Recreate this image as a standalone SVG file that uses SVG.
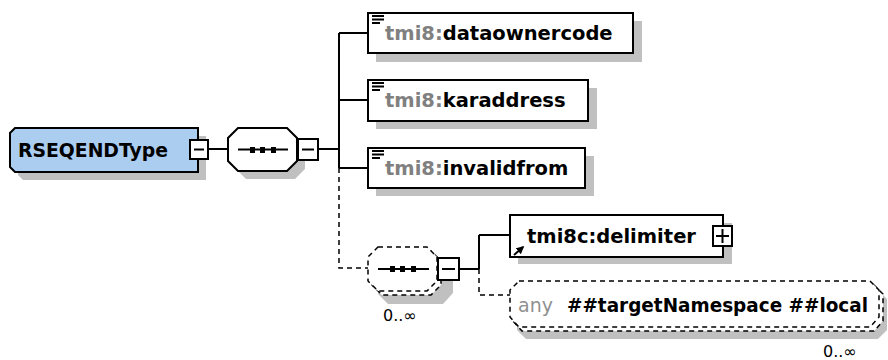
<svg xmlns="http://www.w3.org/2000/svg" width="888" height="360" viewBox="0 0 888 360">
<style>
.sh{fill:#c0c0c0;stroke:none}
.box{fill:#fff;stroke:#000;stroke-width:2}
.dbox{fill:#fff;stroke:#000;stroke-width:1.5;stroke-dasharray:5,4}
.ln{fill:none;stroke:#000;stroke-width:2}
.dl{fill:none;stroke:#000;stroke-width:1.5;stroke-dasharray:5,4}
.t{font-family:"DejaVu Sans",sans-serif;font-weight:bold;font-size:19.5px;fill:#000}
.pre{fill:#808080}
.g{font-family:"DejaVu Sans",sans-serif;font-size:19px;fill:#909090}
.n{font-family:"DejaVu Sans",sans-serif;font-size:16px;fill:#000}
.ic{stroke:#000;stroke-width:2}
</style>
<defs>
<marker id="ah" viewBox="0 0 10 10" refX="8" refY="5" markerWidth="4" markerHeight="4" orient="auto"><path d="M0,0 L10,5 L0,10 z" fill="#000"/></marker>
</defs>

<g id="connectors">
<path class="ln" d="M208,149 H228"/>
<path class="ln" d="M318,149 H339"/>
<path class="ln" d="M339,33 V168"/>
<path class="ln" d="M339,33 H368 M339,100 H368 M339,168 H368"/>
<path class="dl" d="M339,168 V268 H368"/>
<path class="ln" d="M459,269 H479 M479,235 V269 M479,235 H510"/>
<path class="dl" d="M479,269 V295 H512"/>
</g>

<g id="RSEQENDType">
<polygon class="sh" points="23,136 206,136 206,180 23,180 18,175 18,141"/>
<polygon points="15,128 198,128 198,172 15,172 10,167 10,133" fill="#abcdf0" stroke="#000" stroke-width="2"/>
<text class="t" x="18" y="157" textLength="150" lengthAdjust="spacingAndGlyphs">RSEQENDType</text>
<rect class="box" x="190" y="140" width="18" height="19"/>
<path class="ic" d="M194,149.5 H204"/>
</g>

<g id="seq1">
<polygon class="sh" points="246,136 295,136 305,146 305,169 295,179 246,179 236,169 236,146"/>
<polygon class="box" points="238,128 287,128 297,138 297,161 287,171 238,171 228,161 228,138"/>
<path class="ln" d="M238,149.5 H288" stroke-width="1.5"/>
<rect x="250" y="147" width="5" height="6" fill="#000"/>
<rect x="260" y="147" width="5" height="6" fill="#000"/>
<rect x="271" y="147" width="5" height="6" fill="#000"/>
<rect class="box" x="298" y="139" width="20" height="21"/>
<path class="ic" d="M302,149.5 H314"/>
</g>

<g id="dataownercode">
<rect class="sh" x="376" y="21" width="266" height="41"/>
<rect class="box" x="368" y="13" width="265" height="40"/>
<path class="ic" d="M372,16 H384 M372,19.5 H384 M372,23 H380" stroke-width="1.5"/>
<text class="t" x="385" y="40"><tspan class="pre">tmi8:</tspan>dataownercode</text>
</g>

<g id="karaddress">
<rect class="sh" x="376" y="88" width="221" height="41"/>
<rect class="box" x="368" y="80" width="220" height="41"/>
<path class="ic" d="M372,83 H384 M372,86.5 H384 M372,90 H380" stroke-width="1.5"/>
<text class="t" x="385" y="107"><tspan class="pre">tmi8:</tspan>karaddress</text>
</g>

<g id="invalidfrom">
<rect class="sh" x="376" y="156" width="218" height="40"/>
<rect class="box" x="368" y="148" width="217" height="40"/>
<path class="ic" d="M372,151 H384 M372,154.5 H384 M372,158 H380" stroke-width="1.5"/>
<text class="t" x="385" y="175"><tspan class="pre">tmi8:</tspan>invalidfrom</text>
</g>

<g id="seq2">
<polygon class="sh" points="388,260 437,260 453,270 453,293 443,304 388,304 378,294 378,270"/>
<polygon class="dbox" points="382,251 431,251 441,261 441,285 431,295 382,295 372,285 372,261"/>
<polygon class="dbox" points="378,247 427,247 437,257 437,281 427,291 378,291 368,281 368,257"/>
<path class="ln" d="M378,269 H429" stroke-width="1.5"/>
<rect x="390" y="266" width="5" height="6" fill="#000"/>
<rect x="400" y="266" width="5" height="6" fill="#000"/>
<rect x="411" y="266" width="5" height="6" fill="#000"/>
<rect class="box" x="438" y="258" width="21" height="22"/>
<path class="ic" d="M442,269 H455"/>
<text class="n" x="383" y="321">0..∞</text>
</g>

<g id="delimiter">
<rect class="sh" x="518" y="223" width="214" height="41"/>
<rect class="box" x="510" y="215" width="213" height="42"/>
<path d="M514,255 L523,247" stroke="#000" stroke-width="2" marker-end="url(#ah)"/>
<text class="t" x="527" y="243">tmi8c:delimiter</text>
<rect class="box" x="713" y="226" width="19" height="20"/>
<path class="ic" d="M716,236 H729 M722.5,229 V243" stroke-width="1.5"/>
</g>

<g id="any">
<polygon class="sh" points="526,290 878,290 887,299 887,330 878,339 526,339 517,330 517,299"/>
<polygon class="dbox" points="522,285 874,285 883,294 883,321 874,331 522,331 513,321 513,294"/>
<polygon class="dbox" points="519,281 870,281 879,290 879,317 870,327 519,327 510,317 510,290"/>
<text class="g" x="518" y="312">any</text>
<text class="t" x="567" y="312" textLength="301" lengthAdjust="spacingAndGlyphs">##targetNamespace ##local</text>
<text class="n" x="823" y="357">0..∞</text>
</g>
</svg>
